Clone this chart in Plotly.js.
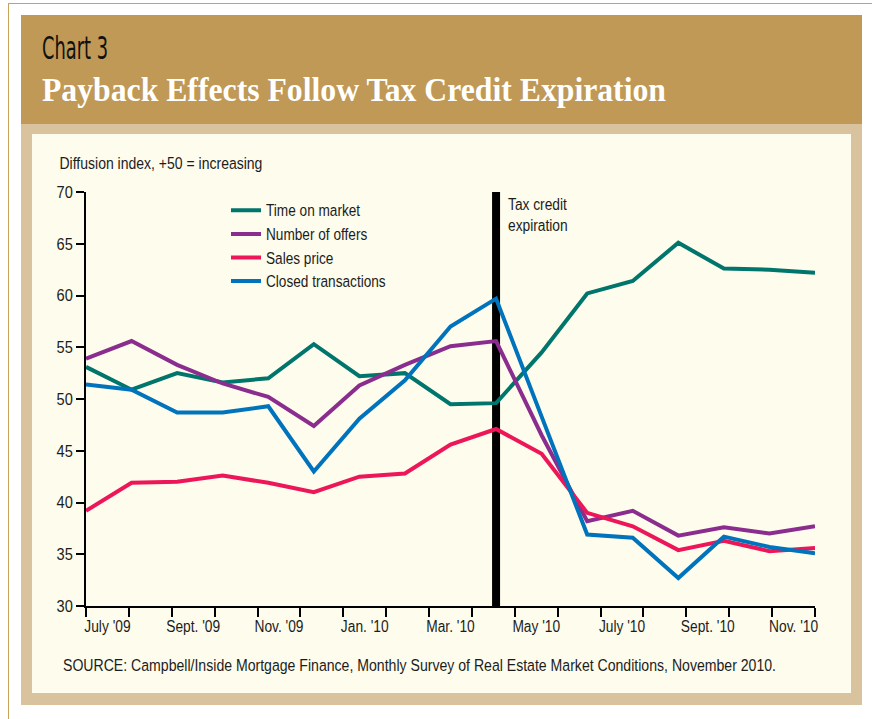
<!DOCTYPE html>
<html>
<head>
<meta charset="utf-8">
<script src="https://cdn.plot.ly/plotly-3.0.1.min.js"></script>
<style>
  html, body { margin: 0; padding: 0; background: #ffffff; }
  #wrap { position: relative; width: 872px; height: 719px; overflow: hidden; }
  .bg { position: absolute; }
  #goldline { left: 8px; top: 3px; width: 880px; height: 730px; border: 1px solid #c7a35a; box-sizing: border-box; }
  #tan { left: 21px; top: 15px; width: 841px; height: 690px; background: #d9c29e; }
  #header { left: 21px; top: 15px; width: 841px; height: 109px; background: #bf9955; }
  #cream { left: 32px; top: 134px; width: 819px; height: 559px; background: #fefcec; }
  .htxt { position: absolute; white-space: nowrap; line-height: 1; transform-origin: 0 0; }
  #chartno { left: 42px; top: 32px; font-family: "DejaVu Sans Condensed", "Liberation Sans", sans-serif; font-size: 32px; color: #111; }
  #charttitle { left: 42px; top: 74px; font-family: "Liberation Serif", "DejaVu Serif", serif; font-weight: bold; font-size: 33px; color: #ffffff; }
  #source { left: 63px; top: 657px; font-family: "Liberation Sans", Arial, sans-serif; font-size: 16.3px; color: #1c1c1c; z-index: 2; }
  #plot { position: absolute; left: 0; top: 0; width: 872px; height: 719px; }
</style>
</head>
<body>
<div id="wrap">
  <div class="bg" id="goldline"></div>
  <div class="bg" id="tan"></div>
  <div class="bg" id="header"></div>
  <div class="bg" id="cream"></div>
  <div class="htxt" id="chartno">Chart 3</div>
  <div class="htxt" id="charttitle">Payback Effects Follow Tax Credit Expiration</div>
  <div id="plot"></div>
  <div class="htxt" id="source">SOURCE: Campbell/Inside Mortgage Finance, Monthly Survey of Real Estate Market Conditions, November 2010.</div>
</div>
<script>
// ---- Data ----
var months = ["July '09", "Aug. '09", "Sept. '09", "Oct. '09", "Nov. '09", "Dec. '09",
              "Jan. '10", "Feb. '10", "Mar. '10", "Apr. '10", "May '10", "June '10",
              "July '10", "Aug. '10", "Sept. '10", "Oct. '10", "Nov. '10"];
var tickLabels = ["July '09", "", "Sept. '09", "", "Nov. '09", "", "Jan. '10", "", "Mar. '10", "",
                  "May '10", "", "July '10", "", "Sept. '10", "", "Nov. '10"];
var timeOnMarket       = [53.1, 50.9, 52.5, 51.6, 52.0, 55.3, 52.2, 52.5, 49.5, 49.6, 54.5, 60.2, 61.4, 65.1, 62.6, 62.5, 62.2];
var numberOfOffers     = [53.9, 55.6, 53.3, 51.5, 50.2, 47.4, 51.3, 53.3, 55.1, 55.6, 46.5, 38.2, 39.2, 36.8, 37.6, 37.0, 37.7];
var salesPrice         = [39.2, 41.9, 42.0, 42.6, 41.9, 41.0, 42.5, 42.8, 45.6, 47.1, 44.7, 39.0, 37.7, 35.4, 36.3, 35.3, 35.6];
var closedTransactions = [51.4, 50.9, 48.7, 48.7, 49.3, 43.0, 48.1, 51.8, 57.0, 59.7, 48.3, 36.9, 36.6, 32.7, 36.7, 35.7, 35.1];
var expiryMonth = "Apr. '10";

// ---- Header / footer text fitting (real text, condensed to the reference widths) ----
function fitWidth(id, target) {
  var el = document.getElementById(id);
  var w = el.getBoundingClientRect().width;
  if (w > 0) el.style.transform = "scaleX(" + (target / w) + ")";
}
fitWidth("chartno", 66);
fitWidth("charttitle", 624);
fitWidth("source", 713);

// ---- Chart ----
var W = 872, H = 719;
var M = { l: 86, r: 57, t: 192, b: 113 };
var plotW = W - M.l - M.r, plotH = H - M.t - M.b;
function px2x(px) { return (px - M.l) / plotW; }
function px2y(py) { return (H - M.b - py) / plotH; }

var xIdx = months.map(function (m, i) { return i; });
var nInt = months.length - 1;                 // 16 data intervals
var nTickInt = months.length;                 // 17 month slots on the axis
var slot = nInt / nTickInt;
var tickMarks = [];
for (var k = 0; k <= nTickInt; k++) tickMarks.push(k * slot);
var labelPos = tickLabels.map(function (t, k) { return (k + 0.5) * slot; });

var sans = '"Liberation Sans", Arial, sans-serif';
var txtColor = "#1c1c1c";
var FS = 16.3;          // text size
var CONDENSE = 0.86;    // horizontal condensing of chart text (reference uses a condensed face)

function series(name, vals, color) {
  return {
    type: "scatter", mode: "lines", name: name,
    x: xIdx, y: vals, text: months, hovertemplate: "%{text}: %{y}<extra>" + name + "</extra>",
    line: { color: color, width: 4 }, cliponaxis: false
  };
}

var data = [
  series("Time on market", timeOnMarket, "#00756c"),
  series("Number of offers", numberOfOffers, "#8a2d8e"),
  series("Sales price", salesPrice, "#ec1659"),
  series("Closed transactions", closedTransactions, "#0073bd")
];

var layout = {
  width: W, height: H,
  margin: { l: M.l, r: M.r, t: M.t, b: M.b, pad: 0 },
  paper_bgcolor: "rgba(0,0,0,0)",
  plot_bgcolor: "rgba(0,0,0,0)",
  font: { family: sans, size: FS, color: txtColor },
  showlegend: true,
  legend: {
    x: px2x(226), y: px2y(193.5), xanchor: "left", yanchor: "top",
    bgcolor: "rgba(0,0,0,0)", borderwidth: 0,
    font: { family: sans, size: 15.85, color: txtColor }
  },
  xaxis: {
    range: [0, nInt], tickmode: "array", tickvals: labelPos, ticktext: tickLabels,
    ticks: "", ticklabelstandoff: 5,
    minor: { tickmode: "array", tickvals: tickMarks, ticks: "outside", ticklen: 9, tickwidth: 1.5, tickcolor: "#000", showgrid: false },
    showline: true, linecolor: "#000", linewidth: 1.5,
    showgrid: false, zeroline: false, fixedrange: true,
    tickfont: { family: sans, size: 16, color: txtColor }
  },
  yaxis: {
    range: [30, 70], tickmode: "linear", tick0: 30, dtick: 5,
    ticks: "outside", ticklen: 8, tickwidth: 1.5, tickcolor: "#000",
    showline: true, linecolor: "#000", linewidth: 1.5,
    showgrid: false, zeroline: false, fixedrange: true,
    tickfont: { family: sans, size: 17, color: txtColor }
  },
  shapes: [{
    type: "line", xref: "x", yref: "paper",
    x0: months.indexOf(expiryMonth), x1: months.indexOf(expiryMonth), y0: 0, y1: 1,
    line: { color: "#000", width: 8 }, layer: "below"
  }],
  annotations: [
    { text: "Diffusion index, +50 = increasing", xref: "paper", yref: "paper",
      x: px2x(161), y: px2y(163), xanchor: "center", yanchor: "middle", showarrow: false,
      font: { family: sans, size: FS, color: txtColor } },
    { text: "Tax credit<br>expiration", xref: "x", yref: "paper",
      x: months.indexOf(expiryMonth), xshift: 10, y: px2y(194), xanchor: "left", yanchor: "top",
      align: "left", showarrow: false,
      font: { family: sans, size: 16, color: txtColor } }
  ]
};

function condense(root, ratio) {
  var texts = root.querySelectorAll("svg text");
  texts.forEach(function (t) {
    if (!t.textContent) return;
    var lines = t.querySelectorAll("tspan.line");
    var targets = lines.length ? Array.prototype.slice.call(lines) : [t];
    targets.forEach(function (el) {
      var w = el.getComputedTextLength();
      if (w > 0) {
        el.setAttribute("textLength", (w * ratio).toFixed(2));
        el.setAttribute("lengthAdjust", "spacingAndGlyphs");
      }
    });
  });
}

Plotly.newPlot("plot", data, layout, { displayModeBar: false }).then(function (gd) {
  condense(gd, CONDENSE);
});
</script>
</body>
</html>
